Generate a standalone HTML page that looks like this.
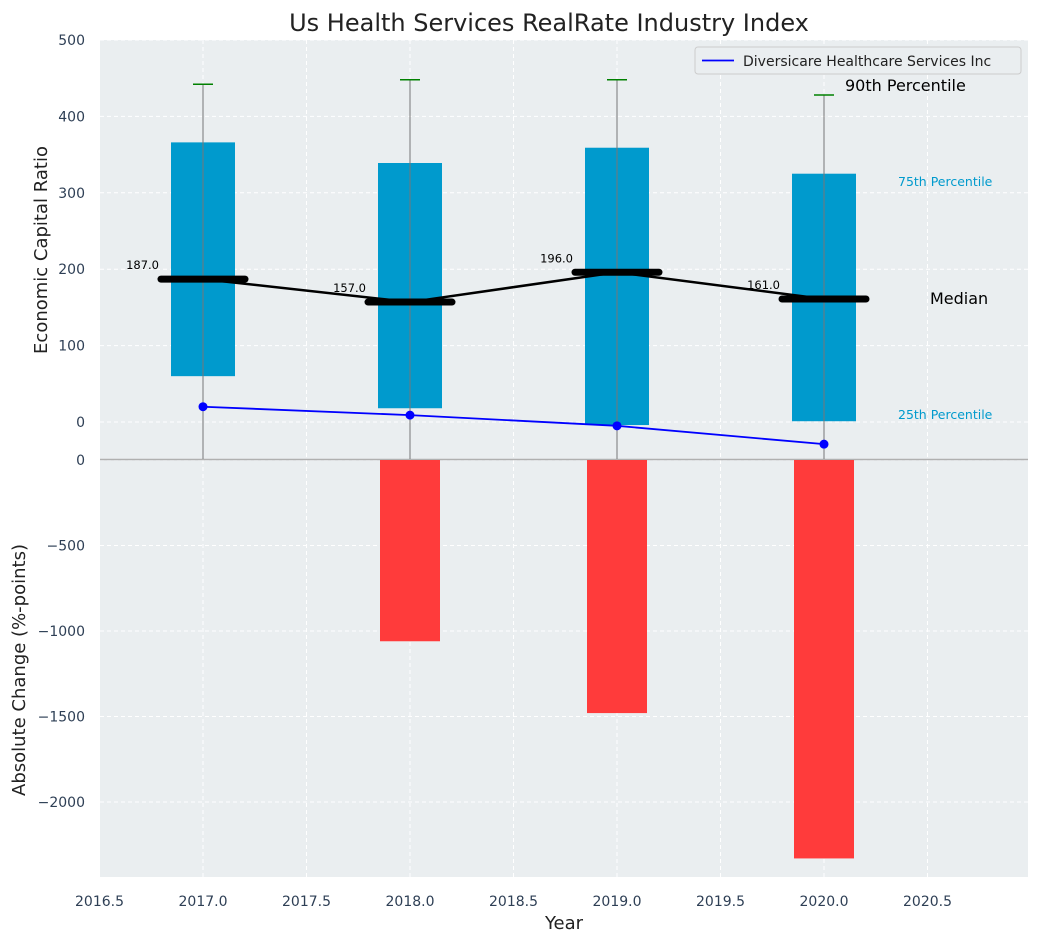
<!DOCTYPE html>
<html><head><meta charset="utf-8"><style>
body{margin:0;background:#fff;font-family:"Liberation Sans","DejaVu Sans",sans-serif}
svg text{font-family:"DejaVu Sans","Liberation Sans",sans-serif}
</style></head><body>
<svg id="c" width="1039" height="942" xmlns="http://www.w3.org/2000/svg"></svg>
<script>
const years=[2017,2018,2019,2020];
const p25=[60,18,-4,1];
const p75=[366,339,359,325];
const p90=[442,448,448,428];
const medians=[187,157,196,161];
const company=[20,9,-5,-29];
const changes=[0,-1060,-1480,-2330];
const xTicks=[2016.5,2017.0,2017.5,2018.0,2018.5,2019.0,2019.5,2020.0,2020.5];
const topTicks=[0,100,200,300,400,500];
const botTicks=[0,-500,-1000,-1500,-2000];

const L=100,R=1028,T1=40,B1=459,T2=460,B2=877;
const X=v=>99.5+(v-2016.5)*207;
const Y1=v=>422-v*0.764;
const Y2=v=>460-v*0.171;
const svg=document.getElementById('c');
const NS='http://www.w3.org/2000/svg';
function mk(tag,attrs,parent){const e=document.createElementNS(NS,tag);for(const k in attrs)e.setAttribute(k,attrs[k]);(parent||svg).appendChild(e);return e;}
function tx(x,y,s,attrs){const e=mk('text',Object.assign({x:x,y:y},attrs));e.textContent=s;return e;}

let bg=mk('rect',{x:L,y:T1,width:R-L,height:B1-T1,fill:'#eaeef0'});


let bg2=mk('rect',{x:L,y:T2,width:R-L,height:B2-T2,fill:'#eaeef0'});


xTicks.forEach(v=>{mk('line',{x1:X(v),x2:X(v),y1:T1,y2:B2,stroke:'#fff','stroke-dasharray':'4,3','stroke-width':1});});
topTicks.forEach(v=>{mk('line',{x1:L,x2:R,y1:Y1(v),y2:Y1(v),stroke:'#fff','stroke-dasharray':'4,3'});
 let t=tx(85,Y1(v)+5,String(v),{fill:'#2e3f55','font-size':14,'text-anchor':'end'});
 });
botTicks.forEach(v=>{mk('line',{x1:L,x2:R,y1:Y2(v),y2:Y2(v),stroke:'#fff','stroke-dasharray':'4,3'});
 let t=tx(85,Y2(v)+5,String(v).replace('-','\u2212'),{fill:'#2e3f55','font-size':14,'text-anchor':'end'});
 });
xTicks.forEach(v=>{let t=tx(X(v),906,v.toFixed(1),{fill:'#2e3f55','font-size':14,'text-anchor':'middle'});
 });
mk('line',{x1:L,x2:R,y1:459.5,y2:459.5,stroke:'#b0b0b0','stroke-width':1.5});

years.forEach((y,i)=>{if(changes[i]===0)return;
 const y0=Y2(0),y1=Y2(changes[i]);
 let b=mk('rect',{x:X(y)-30,y:Math.min(y0,y1),width:60,height:Math.abs(y1-y0),fill:'#ff3b3b'});
 });
years.forEach((y,i)=>{
 let b=mk('rect',{x:X(y)-32,y:Y1(p75[i]),width:64,height:Y1(p25[i])-Y1(p75[i]),fill:'#009acd'});
 
 let w=mk('line',{x1:X(y),x2:X(y),y1:Y1(p90[i]),y2:B1,stroke:'#777','stroke-width':1});
 
 let c=mk('line',{x1:X(y)-10,x2:X(y)+10,y1:Y1(p90[i]),y2:Y1(p90[i]),stroke:'#008000','stroke-width':1.5});
 
});
let mp=years.map((y,i)=>X(y)+','+Y1(medians[i])).join(' ');
let ml=mk('polyline',{points:mp,fill:'none',stroke:'#000','stroke-width':2.5});

years.forEach((y,i)=>{
 let m=mk('line',{x1:X(y)-42,x2:X(y)+42,y1:Y1(medians[i]),y2:Y1(medians[i]),stroke:'#000','stroke-width':7,'stroke-linecap':'round'});
 
 let t=tx(X(y)-44,Y1(medians[i])-10,medians[i].toFixed(1),{fill:'#000','font-size':11.5,'text-anchor':'end'});
 
});
let cp=years.map((y,i)=>X(y)+','+Y1(company[i])).join(' ');
let cl=mk('polyline',{points:cp,fill:'none',stroke:'#0000ff','stroke-width':1.8});

years.forEach((y,i)=>{let d=mk('circle',{cx:X(y),cy:Y1(company[i]),r:4.5,fill:'#0000ff'});
 });

let a;
a=tx(845,91,'90th Percentile',{fill:'#000','font-size':16});
a=tx(898,186,'75th Percentile',{fill:'#009acd','font-size':12.5});
a=tx(930,304,'Median',{fill:'#000','font-size':16});
a=tx(898,419,'25th Percentile',{fill:'#009acd','font-size':12.5});

let lg=mk('g',{});
mk('rect',{x:695,y:47,width:326,height:27,fill:'#eaeef0',stroke:'#ccc',rx:3},lg);
mk('line',{x1:702,x2:734,y1:60.5,y2:60.5,stroke:'#0000ff','stroke-width':1.8},lg);
let le=tx(743,66,'Diversicare Healthcare Services Inc',{fill:'#222','font-size':14},lg);


a=tx(549,31,'Us Health Services RealRate Industry Index',{fill:'#222','font-size':24,'text-anchor':'middle'});
a=tx(564,929,'Year',{fill:'#222','font-size':18,'text-anchor':'middle'});
a=tx(0,0,'Economic Capital Ratio',{fill:'#222','font-size':18,'text-anchor':'middle',transform:'translate(47,250) rotate(-90)'});
a=tx(0,0,'Absolute Change (%-points)',{fill:'#222','font-size':18,'text-anchor':'middle',transform:'translate(25,670) rotate(-90)'});
</script>
</body></html>
